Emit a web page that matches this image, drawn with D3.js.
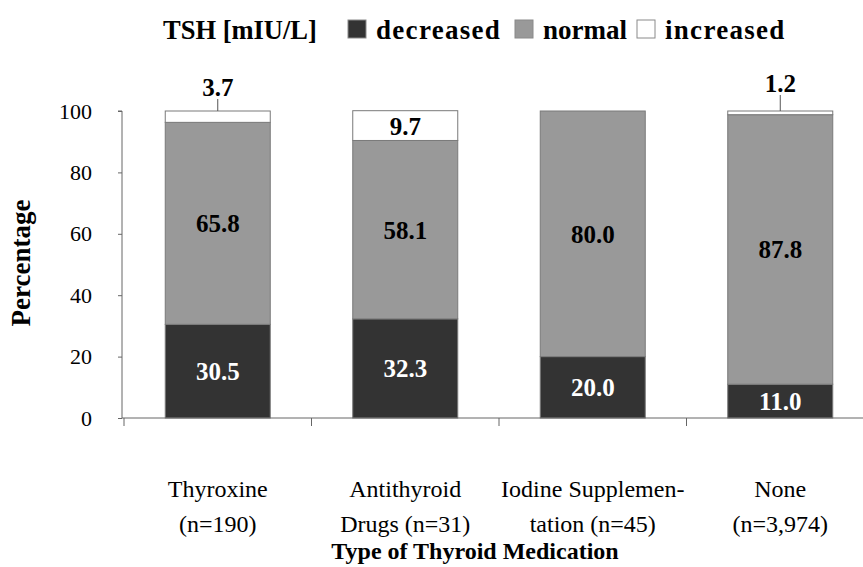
<!DOCTYPE html>
<html>
<head>
<meta charset="utf-8">
<script src="https://cdn.jsdelivr.net/npm/d3@7"></script>
</head>
<body style="margin:0">
<script>
var categories = ["Thyroxine|(n=190)", "Antithyroid|Drugs (n=31)", "Iodine Supplemen-|tation (n=45)", "None|(n=3,974)"];
var series = ["decreased", "normal", "increased"];
var decreased = [30.5, 32.3, 20.0, 11.0];
var normal = [65.8, 58.1, 80.0, 87.8];
var increased = [3.7, 9.7, 0, 1.2];
var yTicks = [0, 20, 40, 60, 80, 100];

var colors = {decreased: "#333333", normal: "#999999", increased: "#ffffff"};
var labelColors = {decreased: "#ffffff", normal: "#000000", increased: "#000000"};
var serifFont = "'Liberation Serif'";

var width = 863, height = 567;
var margin = {left: 122, top: 111, bottom: 149};
var plotH = height - margin.top - margin.bottom;

var table = categories.map(function(c, i) {
  return {cat: c, decreased: decreased[i], normal: normal[i], increased: increased[i]};
});
var stacked = d3.stack().keys(series)(table);

var x = d3.scaleBand()
    .domain(categories)
    .range([124, 874])
    .paddingInner(0.44)
    .paddingOuter(0.22);

var y = d3.scaleLinear()
    .domain([0, 100])
    .range([margin.top + plotH, margin.top]);

var svg = d3.select("body").append("svg")
    .attr("width", width)
    .attr("height", height);

// bars
var layers = svg.selectAll(".layer")
    .data(stacked)
    .enter().append("g")
    .attr("class", "layer")
    .attr("fill", function(d) { return colors[d.key]; });

layers.selectAll("rect")
    .data(function(d) { return d.filter(function(p) { return p[1] - p[0] > 0; }); })
    .enter().append("rect")
    .attr("x", function(d) { return x(d.data.cat); })
    .attr("width", x.bandwidth())
    .attr("y", function(d) { return y(d[1]); })
    .attr("height", function(d) { return y(d[0]) - y(d[1]); })
    .attr("stroke", "#7a7a7a")
    .attr("stroke-width", 1);

// value labels (tiny segments get a label above the bar with a leader line)
stacked.forEach(function(layer) {
  layer.forEach(function(p, i) {
    var v = p[1] - p[0];
    if (v <= 0) return;
    var cx = x(p.data.cat) + x.bandwidth() / 2;
    var small = v < 5;
    var lift = i === 3 ? 4 : 0;
    var ty = small ? y(100) - 15 - lift : (y(p[0]) + y(p[1])) / 2 + 9;
    if (small) {
      svg.append("line")
          .attr("x1", cx).attr("x2", cx)
          .attr("y1", y(p[1])).attr("y2", y(100) - 12 - lift)
          .attr("stroke", "#555").attr("stroke-width", 1);
    }
    svg.append("text")
        .style("font-family", serifFont)
        .attr("x", cx)
        .attr("y", ty)
        .attr("text-anchor", "middle")
        .attr("font-size", 25)
        .attr("font-weight", "bold")
        .attr("fill", labelColors[layer.key])
        .text(v.toFixed(1));
  });
});

// y axis
var yAxis = svg.append("g")
    .attr("transform", "translate(" + margin.left + ",0)")
    .call(d3.axisLeft(y).tickValues(yTicks).tickSize(4).tickPadding(26));
yAxis.select(".domain").attr("stroke", "#666").attr("d", "M-4," + y(100) + "H0V" + y(0));
yAxis.selectAll(".tick line").attr("stroke", "#666");
yAxis.selectAll(".tick text")
    .style("font-family", serifFont)
    .attr("font-size", 22)
    .attr("fill", "#000");

// x axis
var xAxisG = svg.append("g")
    .attr("transform", "translate(0," + y(0) + ")");
xAxisG.append("line")
    .attr("x1", margin.left).attr("x2", width)
    .attr("stroke", "#666");
xAxisG.selectAll(".sep")
    .data(categories)
    .enter().append("line")
    .attr("x1", function(d) { return x(d) - x.step() * 0.22; })
    .attr("x2", function(d) { return x(d) - x.step() * 0.22; })
    .attr("y1", 0).attr("y2", 8)
    .attr("stroke", "#666");

categories.forEach(function(d) {
  d.split("|").forEach(function(line, i) {
    xAxisG.append("text")
        .style("font-family", serifFont)
        .attr("text-anchor", "middle")
        .attr("font-size", 24)
        .attr("fill", "#000")
        .attr("x", x(d) + x.bandwidth() / 2)
        .attr("y", 79 + i * 35)
        .text(line);
  });
});

// axis titles
svg.append("text")
    .style("font-family", serifFont)
    .attr("x", 475).attr("y", 559)
    .attr("text-anchor", "middle")
    .attr("font-size", 24)
    .attr("font-weight", "bold")
    .text("Type of Thyroid Medication");

svg.append("text")
    .style("font-family", serifFont)
    .attr("transform", "translate(30,263) rotate(-90)")
    .attr("text-anchor", "middle")
    .attr("font-size", 27)
    .attr("font-weight", "bold")
    .text("Percentage");

// legend
var legend = svg.append("g").attr("transform", "translate(0,39)");
legend.append("text")
    .style("font-family", serifFont)
    .attr("x", 163).attr("y", 0)
    .attr("font-size", 26.5)
    .attr("font-weight", "bold")
    .text("TSH [mIU/L]");

var legendX = [348, 515, 637];
series.forEach(function(s, i) {
  legend.append("rect")
      .attr("x", legendX[i]).attr("y", -19)
      .attr("width", 18).attr("height", 18)
      .attr("fill", colors[s])
      .attr("stroke", "#8a8a8a");
  legend.append("text")
      .style("font-family", serifFont)
      .attr("x", legendX[i] + 28).attr("y", 0)
      .attr("font-size", 27)
      .attr("font-weight", "bold")
      .attr("letter-spacing", i === 1 ? 0 : 1.3)
      .text(s);
});
</script>
</body>
</html>
